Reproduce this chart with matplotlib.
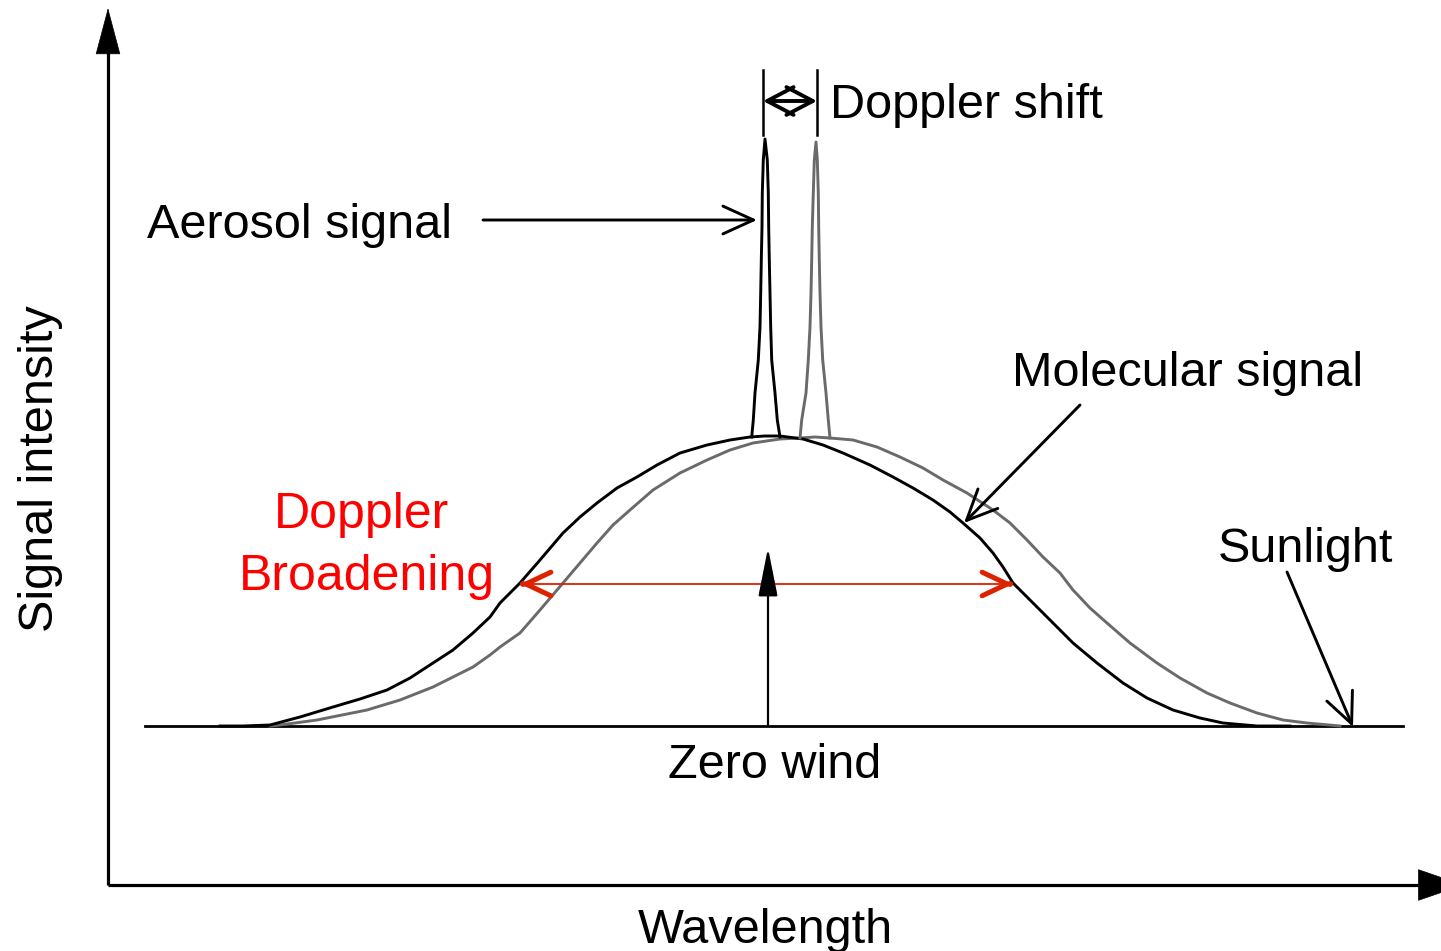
import matplotlib.pyplot as plt

# curves (x = wavelength position, y = image row, baseline at 726)
mol_zero_x = [220, 243, 270, 300, 333, 360, 387, 410, 433, 453, 473, 490, 500, 520, 540,
              563, 580, 597, 617, 637, 657, 680, 707, 730, 750, 765, 780, 803, 823, 843,
              870, 893, 913, 933, 950, 963, 980, 993, 1003, 1013, 1027, 1040, 1057, 1073,
              1097, 1123, 1147, 1173, 1200, 1223, 1257, 1290]
mol_zero_y = [726, 726, 725, 717, 707, 699, 690, 678, 663, 650, 633, 617, 603, 583, 560,
              533, 517, 503, 488, 477, 465, 453, 445, 440, 437, 436, 436, 439, 445, 453,
              465, 477, 488, 500, 512, 523, 538, 553, 567, 583, 597, 610, 627, 643,
              663, 683, 698, 710, 718, 723, 726, 726]

mol_shift_x = [270, 280, 317, 367, 400, 433, 453, 473, 490, 500, 520, 540, 563, 580, 597,
               613, 630, 653, 680, 707, 730, 753, 780, 800, 815, 830, 853, 877, 900, 923,
               943, 967, 993, 1010, 1027, 1043, 1060, 1073, 1090, 1107, 1130, 1157, 1180,
               1207, 1230, 1257, 1283, 1307, 1340]
mol_shift_y = [726, 725, 720, 710, 700, 687, 677, 667, 655, 647, 633, 610, 583, 563, 543,
               525, 510, 490, 473, 460, 450, 443, 439, 438, 437, 438, 440, 447, 457, 468,
               480, 493, 510, 523, 540, 557, 573, 590, 608, 623, 643, 663, 678,
               693, 703, 713, 720, 723, 726]

aer_zero_x = [751.7, 753.3, 755, 758.3, 760, 760.7, 761.3, 762, 762.3, 763.3, 765,
              767.3, 768.3, 768.7, 769.3, 770, 770.7, 771.7, 775, 777.3, 780]
aer_zero_y = [437, 420, 393, 360, 327, 293, 260, 227, 193, 160, 139,
              160, 193, 227, 260, 293, 327, 360, 393, 420, 437]

aer_shift_x = [800, 801.7, 806, 808.3, 810, 811, 811.7, 812.3, 813.3, 814.3, 816,
               817.3, 818.3, 818.7, 819.3, 820, 821, 822.7, 826, 828.3, 830]
aer_shift_y = [438, 420, 393, 360, 327, 293, 260, 227, 193, 160, 142,
               160, 193, 227, 260, 293, 327, 360, 393, 420, 438]

baseline_y = 726
zero_wind_x = 768
shift_x = [763, 817]

fig = plt.figure(figsize=(14.41, 9.51), dpi=100)
ax = fig.add_axes([0, 0, 1, 1])
ax.set_xlim(0, 1441)
ax.set_ylim(951, 0)
ax.axis('off')

font = 'Liberation Sans'
lw = 2.1
grey = '#6a6a6a'

# axes arrows
ax.plot([108, 108], [885, 50], color='black', lw=2.3, solid_capstyle='butt')
ax.annotate('', xy=(108, 8), xytext=(108, 52),
            arrowprops=dict(arrowstyle='-|>,head_length=3.2,head_width=0.85',
                            mutation_scale=10, fc='black', ec='black', lw=0.5,
                            shrinkA=0, shrinkB=0))
ax.plot([108, 1425], [885, 885], color='black', lw=2.3, solid_capstyle='butt')
ax.annotate('', xy=(1464, 885), xytext=(1420, 885), annotation_clip=False,
            arrowprops=dict(arrowstyle='-|>,head_length=3.2,head_width=1.1',
                            mutation_scale=10, fc='black', ec='black', lw=0.5,
                            shrinkA=0, shrinkB=0))

# baseline
ax.plot([145, 1403], [baseline_y, baseline_y], color='black', lw=2.0)

# molecular signals
ax.plot(mol_shift_x, mol_shift_y, color=grey, lw=lw, solid_joinstyle='round')
ax.plot(mol_zero_x, mol_zero_y, color='black', lw=lw, solid_joinstyle='round')

# aerosol spikes
ax.plot(aer_shift_x, aer_shift_y, color=grey, lw=lw, solid_joinstyle='round')
ax.plot(aer_zero_x, aer_zero_y, color='black', lw=lw, solid_joinstyle='round')

# doppler shift bracket
for sx in shift_x:
    ax.plot([sx, sx], [70, 135], color='black', lw=1.8)
ax.annotate('', xy=(shift_x[0], 101), xytext=(shift_x[1], 101),
            arrowprops=dict(arrowstyle='<->,head_length=1.9,head_width=1.0',
                            mutation_scale=10, color='black', lw=2.8,
                            shrinkA=0, shrinkB=0))

# zero wind arrow
ax.annotate('', xy=(zero_wind_x, 548), xytext=(zero_wind_x, baseline_y),
            arrowprops=dict(arrowstyle='-|>,head_length=3.0,head_width=0.6',
                            mutation_scale=10, fc='black', ec='black', lw=1.6,
                            shrinkA=0, shrinkB=0))

# doppler broadening arrow
red_line = '#dd2200'
ax.plot([522, 1011], [584, 584], color=red_line, lw=1.3)
for tip, back in [(520, 523), (1013, 1010)]:
    ax.annotate('', xy=(tip, 584), xytext=(back, 584),
                arrowprops=dict(arrowstyle='->,head_length=1.8,head_width=0.85',
                                mutation_scale=10, color=red_line, lw=3.6,
                                shrinkA=0, shrinkB=0))

# pointer arrows
pointer = dict(arrowstyle='->,head_length=2.2,head_width=1.0', mutation_scale=10,
               color='black', lw=2.1, shrinkA=0, shrinkB=0)
ax.annotate('', xy=(757, 220), xytext=(483, 220), arrowprops=pointer)
ax.annotate('', xy=(964, 523), xytext=(1080, 405), arrowprops=pointer)
ax.annotate('', xy=(1353, 727), xytext=(1287, 572), arrowprops=pointer)

# labels
fs = 35
ax.text(830, 118, 'Doppler shift', fontsize=fs, family=font, va='baseline', ha='left')
ax.text(147, 238, 'Aerosol signal', fontsize=fs, family=font, va='baseline', ha='left')
ax.text(1012, 386, 'Molecular signal', fontsize=fs, family=font, va='baseline', ha='left')
ax.text(1218, 562, 'Sunlight', fontsize=fs, family=font, va='baseline', ha='left')
ax.text(775, 778, 'Zero wind', fontsize=fs, family=font, va='baseline', ha='center')
ax.text(765, 943, 'Wavelength', fontsize=fs, family=font, va='baseline', ha='center')
ax.text(41, 469, 'Signal intensity', fontsize=fs, family=font, rotation=90,
        va='center', ha='center')
ax.text(361, 528, 'Doppler', fontsize=36, family=font, color='#ff0000',
        va='baseline', ha='center')
ax.text(367, 590, 'Broadening', fontsize=36, family=font, color='#ff0000',
        va='baseline', ha='center')

fig.savefig('out.png', dpi=100)
